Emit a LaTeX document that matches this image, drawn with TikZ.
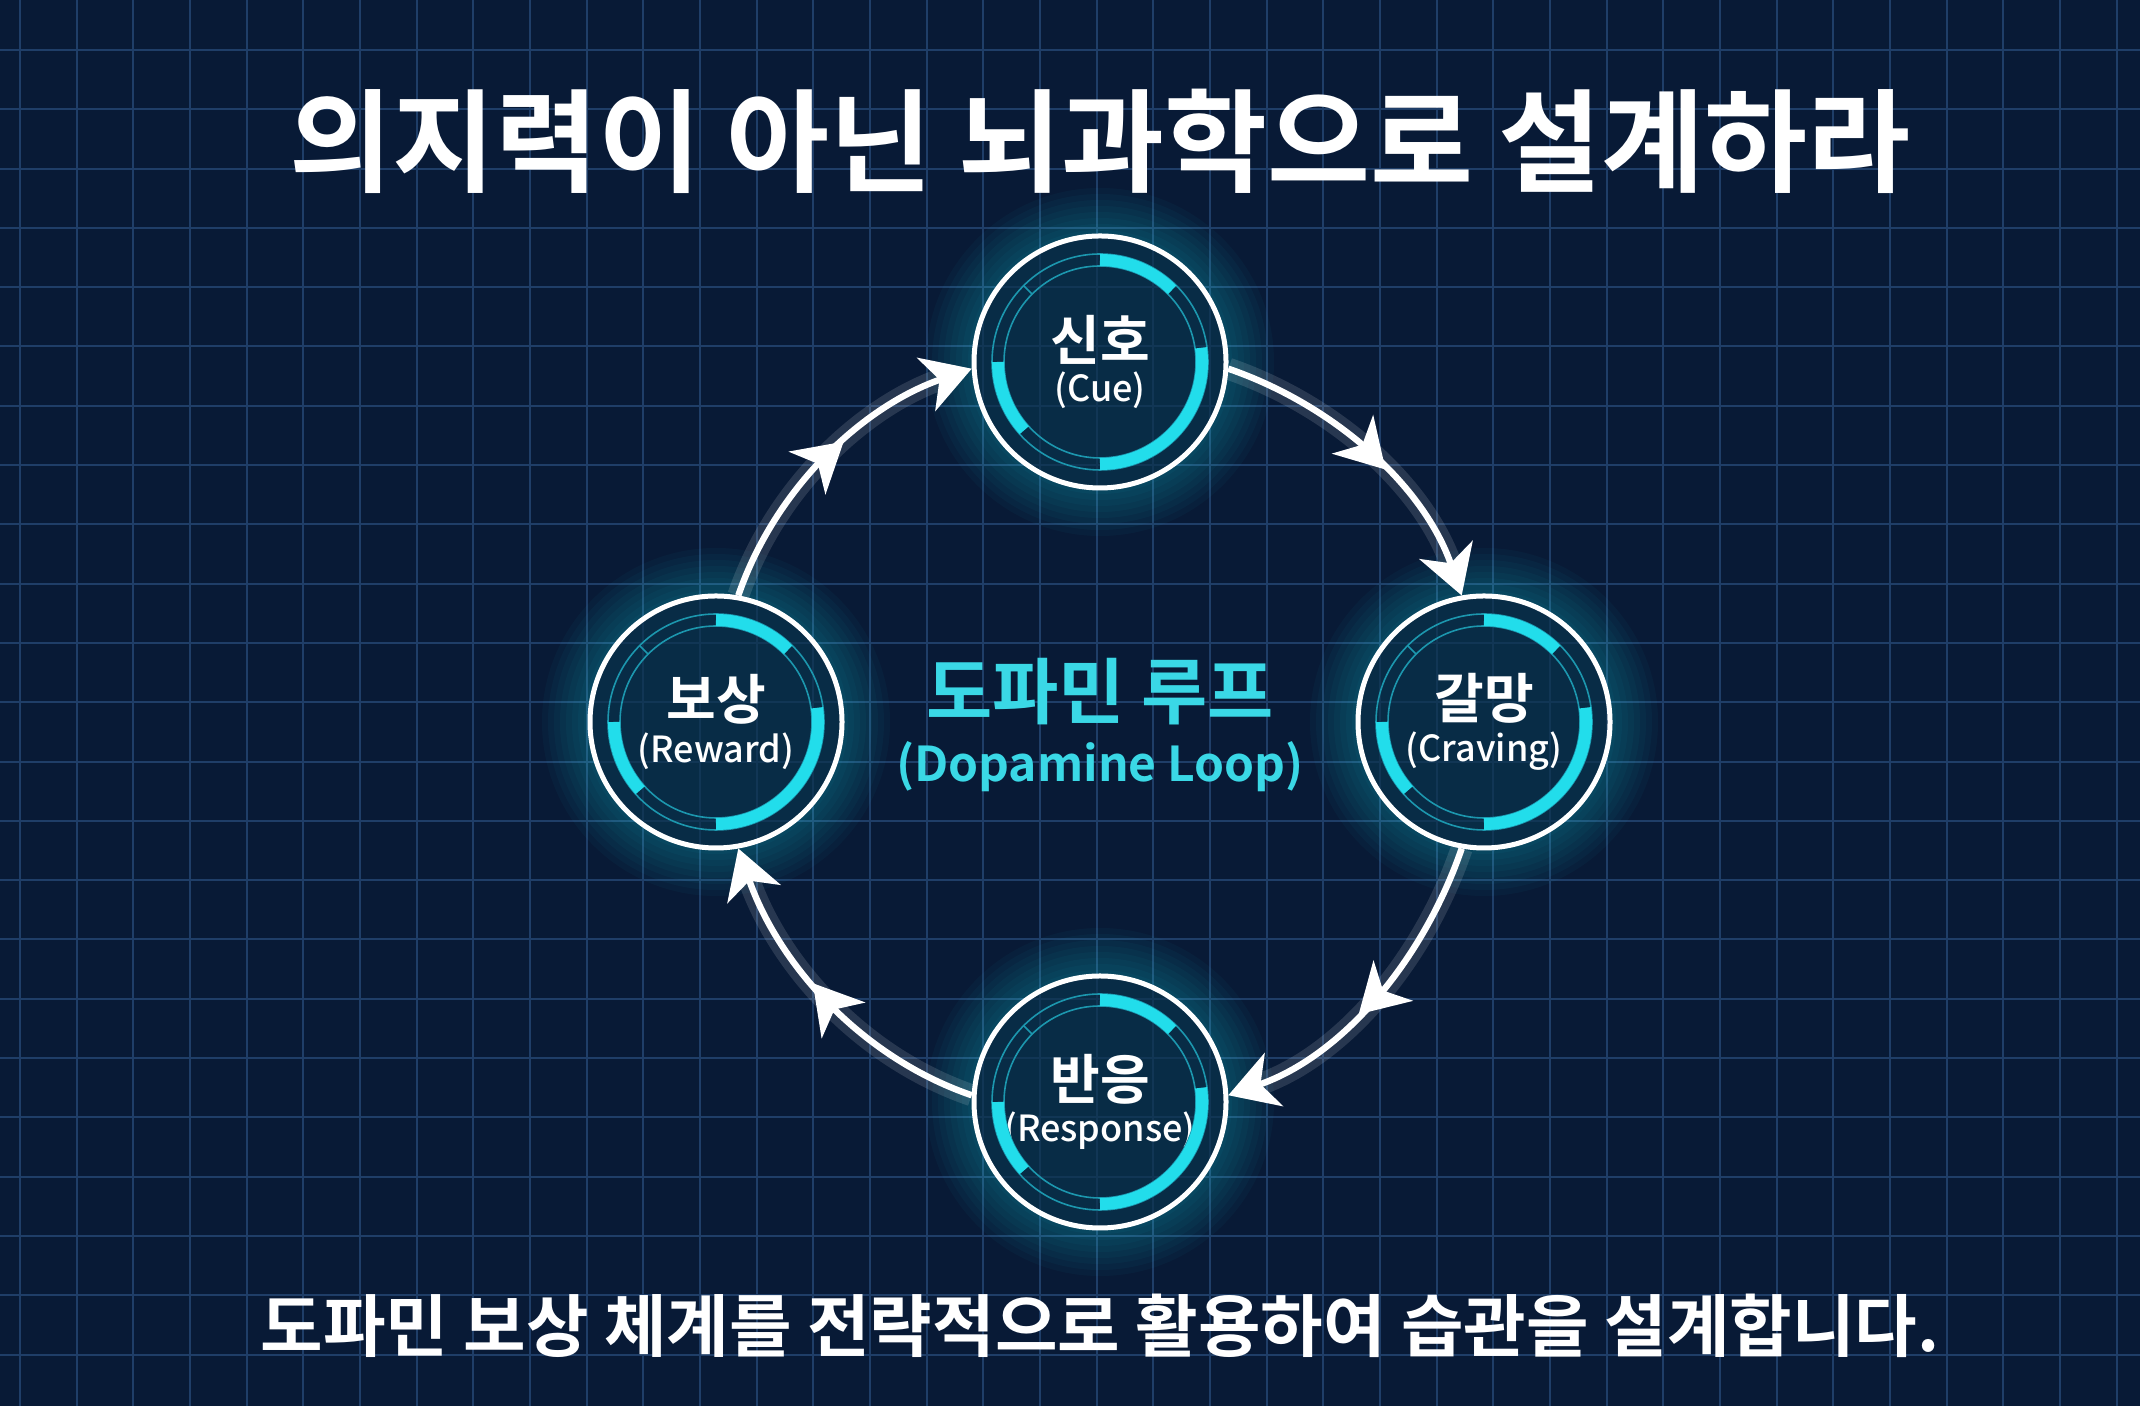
\documentclass[tikz,border=0pt]{standalone}
\usepackage{fontspec}
\setmainfont{Noto Sans CJK KR}[BoldFont={Noto Sans CJK KR Bold}]
\newfontfamily\medfont{Noto Sans CJK KR Medium}
\usetikzlibrary{arrows.meta,decorations.markings}

\definecolor{bgnavy}{HTML}{081A36}
\definecolor{gridblue}{HTML}{1F3E68}
\definecolor{neon}{HTML}{22DDEB}
\definecolor{neontext}{HTML}{3AD8E6}
\definecolor{ringdim}{HTML}{1C97AE}

\pgfdeclarelayer{back}
\pgfsetlayers{back,main}

\newcommand\stagelabel[2]{{\fontsize{27}{30}\selectfont\bfseries #1}\\[3pt]{\fontsize{18}{22}\selectfont\medfont #2}}

% rings inside one stage circle
\newcommand\gauge[1]{%
  \draw[thinring] (#1.center) circle (108);
  \draw[thinring] (#1.center) circle (96);
  \draw[thinring] (#1.center) ++(135:96) -- ++(135:12);
  \foreach \a/\b in {45/90,-90/8,180/222}
    \draw[bandseg] (#1.center) ++(\a:102) arc[start angle=\a, end angle=\b, radius=102];
}

\tikzset{
  stagenode/.style={circle, minimum size=126pt, inner sep=0pt, draw=white,
    line width=2.5pt, fill=bgnavy, fill opacity=0.6, text opacity=1,
    text=white, align=center},
  thinring/.style={ringdim, line width=0.8pt},
  bandseg/.style={neon, line width=6pt},
  cycarrow/.style={white, line width=3.2pt, -{Stealth[length=24pt,width=28pt,inset=7pt]},
    preaction={draw=white, line width=11pt, opacity=0.13},
    postaction={decorate},
    decoration={markings, mark=at position 0.56 with {\arrow{Stealth[length=24pt,width=28pt,inset=7pt]}}}},
  headline/.style={text=white, font=\fontsize{56}{64}\selectfont\bfseries},
  caption/.style={text=white, font=\fontsize{34}{40}\selectfont\bfseries},
  looptitle/.style={text=neontext, font=\fontsize{36}{42}\selectfont\bfseries},
  loopsub/.style={text=neontext, font=\fontsize{24}{30}\selectfont\bfseries}
}

\begin{document}
\begin{tikzpicture}[x=0.5pt,y=0.5pt]

  \useasboundingbox (0,0) rectangle (2140,1406);

  \node[headline] (title) at (1100,1265) {의지력이 아닌 뇌과학으로 설계하라};

  \node[stagenode] (cue) at (1100,1044) {\stagelabel{신호}{(Cue)}};
  \node[stagenode] (crave) at (1484,684) {\stagelabel{갈망}{(Craving)}};
  \node[stagenode] (resp) at (1100,304) {\stagelabel{반응}{(Response)}};
  \node[stagenode] (reward) at (716,684) {\stagelabel{보상}{(Reward)}};

  \gauge{cue}
  \gauge{crave}
  \gauge{resp}
  \gauge{reward}

  \node[looptitle] (ltitle) at (1100,714) {도파민 루프};
  \node[loopsub] (lsub) at (1100,639) {(Dopamine Loop)};

  \draw[cycarrow] (cue.-3) to[out=-19,in=109,looseness=0.9] (crave.100);
  \draw[cycarrow] (crave.-100) to[out=-109,in=19,looseness=0.9] (resp.3);
  \draw[cycarrow] (resp.177) to[out=161,in=-71,looseness=0.9] (reward.-80);
  \draw[cycarrow] (reward.80) to[out=71,in=199,looseness=0.9] (cue.183);

  \node[caption] (cap) at (1100,80) {도파민 보상 체계를 전략적으로 활용하여 습관을 설계합니다.};

  \begin{pgfonlayer}{back}
    \fill[bgnavy] (0,0) rectangle (2140,1406);
    \begin{scope}[shift={(20,51.4)}]
      \draw[gridblue, line width=1pt, xstep=56.67, ystep=59.3]
        (-20,-51.4) grid (2120,1354.6);
    \end{scope}
    \foreach \n in {cue,crave,resp,reward}
      \foreach \g in {1,...,8}
        \fill[neon, opacity=0.035] (\n.center) circle (126+\g*6);
  \end{pgfonlayer}

\end{tikzpicture}
\end{document}
